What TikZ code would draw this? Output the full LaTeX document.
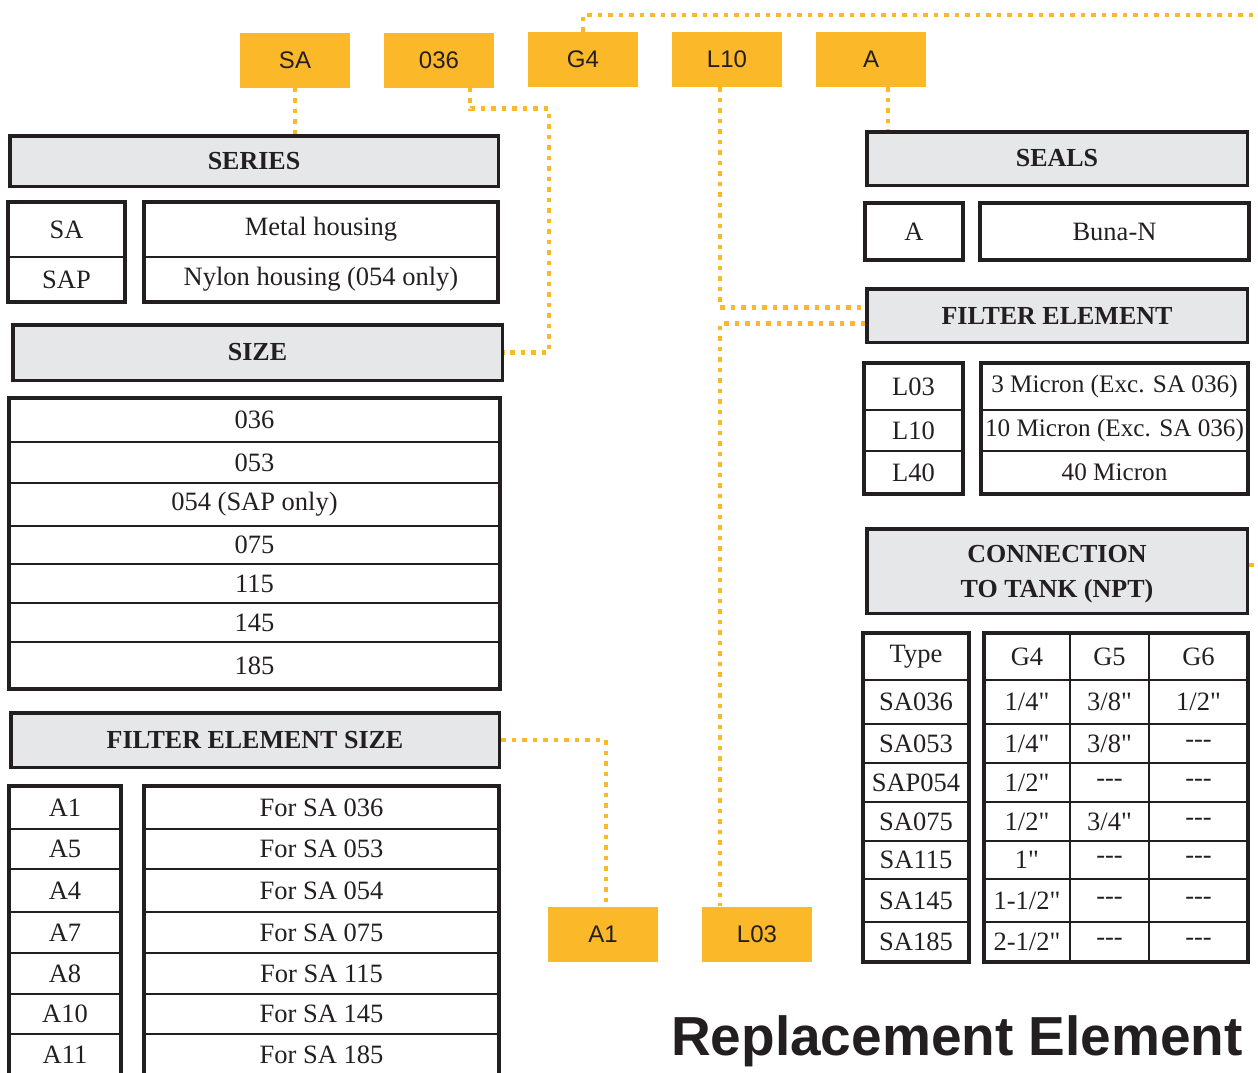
\documentclass[tikz,border=0pt]{standalone}
\usepackage{fontspec}
\setmainfont{Liberation Serif}[Ligatures=TeXOff]
\setsansfont{Liberation Sans}

\definecolor{tagorange}{HTML}{FBB829}
\definecolor{boxgray}{HTML}{E6E7E8}
\definecolor{ink}{HTML}{231F20}

\newcommand{\nofit}{\mbox{-}\mbox{-}\mbox{-}}

\tikzset{
  tag/.style={fill=tagorange, minimum width=110pt, minimum height=55pt, inner sep=0pt, text=ink, font=\sffamily\fontsize{24}{24}\selectfont},
  head/.style={draw=ink, line width=3.5pt, fill=boxgray, inner sep=0pt, align=center, text=ink, font=\bfseries\fontsize{26}{35}\selectfont},
  cell/.style={draw=ink, line width=1.2pt, anchor=north west, inner sep=0pt, outer sep=0pt, text=ink, font=\fontsize{26.5}{30}\selectfont},
  frame/.style={draw=ink, line width=3.5pt},
  link/.style={draw=tagorange, line width=4.5pt, dash pattern=on 4.5pt off 6pt}
}

\begin{document}
\begin{tikzpicture}[x=1pt, y=-1pt]
      \useasboundingbox (0,0) rectangle (1258,1072);

      % Code tags
      \node[tag] (sa) at (295,60) {SA};
      \node[tag] (c036) at (439,60) {036};
      \node[tag] (g4) at (583,59.5) {G4};
      \node[tag] (l10) at (727,59.5) {L10};
      \node[tag] (a) at (871,59.5) {A};
      \node[tag] (a1) at (603,934) {A1};
      \node[tag] (l03) at (757,934) {L03};

      % Left column headers
      \node[head, minimum width=488.5pt, minimum height=50.5pt] (series) at (254,161) {SERIES};
      \node[head, minimum width=489.5pt, minimum height=55.5pt] (size) at (257.5,352.5) {SIZE};
      \node[head, minimum width=488.5pt, minimum height=54.5pt] (fes) at (255,740) {FILTER ELEMENT SIZE};

      % Right column headers
      \node[head, minimum width=380.5pt, minimum height=53.5pt] (seals) at (1057,158.5) {SEALS};
      \node[head, minimum width=380.5pt, minimum height=53.5pt] (fe) at (1057,315.5) {FILTER ELEMENT};
      \node[head, minimum width=380.5pt, minimum height=84.5pt, text depth=0pt] (conn) at (1057,571) {CONNECTION\\TO TANK (NPT)};

      % Series table
      \foreach \code/\txt/\ya/\yb [count=\i] in {SA/Metal housing/202/257, SAP/Nylon housing (054 only)/257/302} {
        \node[cell, minimum width=117pt, minimum height={\yb-\ya}] (sercode\i) at (8,\ya) {\code};
        \node[cell, minimum width=354pt, minimum height={\yb-\ya}] (sertxt\i) at (144,\ya) {\txt};
      }
      \draw[frame] (8,202) rectangle (125,302);
      \draw[frame] (144,202) rectangle (498,302);

      % Size table
      \foreach \val/\ya/\yb [count=\i] in {036/398/442, 053/442/483, 054 (SAP only)/483/526, 075/526/564, 115/564/603, 145/603/642, 185/642/689}
        \node[cell, minimum width=491pt, minimum height={\yb-\ya}] (sz\i) at (9,\ya) {\val};
      \draw[frame] (9,398) rectangle (500,689);

      % Filter element size table
      \foreach \code/\ser/\ya/\yb [count=\i] in {A1/036/786/829, A5/053/829/869, A4/054/869/912, A7/075/912/953, A8/115/953/994, A10/145/994/1034, A11/185/1034/1076} {
        \node[cell, minimum width=112pt, minimum height={\yb-\ya}] (fcode\i) at (9,\ya) {\code};
        \node[cell, minimum width=355pt, minimum height={\yb-\ya}] (ffor\i) at (144,\ya) {For SA \ser};
      }
      \draw[frame] (9,786) rectangle (121,1080);
      \draw[frame] (144,786) rectangle (499,1080);

      % Seals table
      \node[cell, minimum width=98pt, minimum height=57pt] (sealcode) at (865,203) {A};
      \node[cell, minimum width=269pt, minimum height=57pt] (sealtxt) at (980,203) {Buna-N};
      \draw[frame] (865,203) rectangle (963,260);
      \draw[frame] (980,203) rectangle (1249,260);

      % Filter element table
      \foreach \code/\txt/\ya/\yb [count=\i] in {L03/3 Micron (Exc. SA 036)/363/410, L10/10 Micron (Exc. SA 036)/410/451, L40/40 Micron/451/494} {
        \node[cell, minimum width=99pt, minimum height={\yb-\ya}] (lcode\i) at (864,\ya) {\code};
        \node[cell, minimum width=267pt, minimum height={\yb-\ya}, font=\fontsize{25.2}{30}\selectfont] (ltxt\i) at (981,\ya) {\txt};
      }
      \draw[frame] (864,363) rectangle (963,494);
      \draw[frame] (981,363) rectangle (1248,494);

      % Connection table
      \foreach \ty/\ga/\gb/\gc/\ya/\yb [count=\i] in {Type/G4/G5/G6/633/680,
          SA036/{1/4"}/{3/8"}/{1/2"}/680/724, SA053/{1/4"}/{3/8"}/\nofit/724/763,
          SAP054/{1/2"}/\nofit/\nofit/763/802, SA075/{1/2"}/{3/4"}/\nofit/802/841,
          SA115/{1"}/\nofit/\nofit/841/879, SA145/{1-1/2"}/\nofit/\nofit/879/922,
          SA185/{2-1/2"}/\nofit/\nofit/922/962} {
        \node[cell, minimum width=106pt, minimum height={\yb-\ya}] (ty\i) at (863,\ya) {\ty};
        \node[cell, minimum width=86pt, minimum height={\yb-\ya}] (ga\i) at (984,\ya) {\ga};
        \node[cell, minimum width=79pt, minimum height={\yb-\ya}] (gb\i) at (1070,\ya) {\gb};
        \node[cell, minimum width=99pt, minimum height={\yb-\ya}] (gc\i) at (1149,\ya) {\gc};
      }
      \draw[frame] (863,633) rectangle (969,962);
      \draw[frame] (984,633) rectangle (1248,962);

      % Title
      \node[anchor=base east, inner sep=0pt, text=ink, font=\sffamily\bfseries\fontsize{55}{55}\selectfont] (title) at (1243,1055) {Replacement Element};

      % Dotted links from tags to headers
      \coordinate (toedge) at (1265,15);
      \draw[link] (sa.south) -- (sa.south |- series.north);
      \draw[link] ([xshift=31pt]c036.south) -- ++(0,21) -| ([xshift=45pt]size.east) -- (size.east);
      \draw[link] (g4.north) |- (toedge);
      \draw[link] ([yshift=6pt]conn.east) -- ++(14,0);
      \draw[link] ([xshift=-7pt]l10.south) |- ([yshift=8pt]fe.west);
      \draw[link] ([yshift=-8pt]fe.west) -| ([xshift=-37pt]l03.north);
      \draw[link] ([xshift=17pt]a.south) -- ([xshift=17pt]a.south |- seals.north);
      \draw[link] (fes.east) -| ([xshift=3pt]a1.north);

\end{tikzpicture}
\end{document}
